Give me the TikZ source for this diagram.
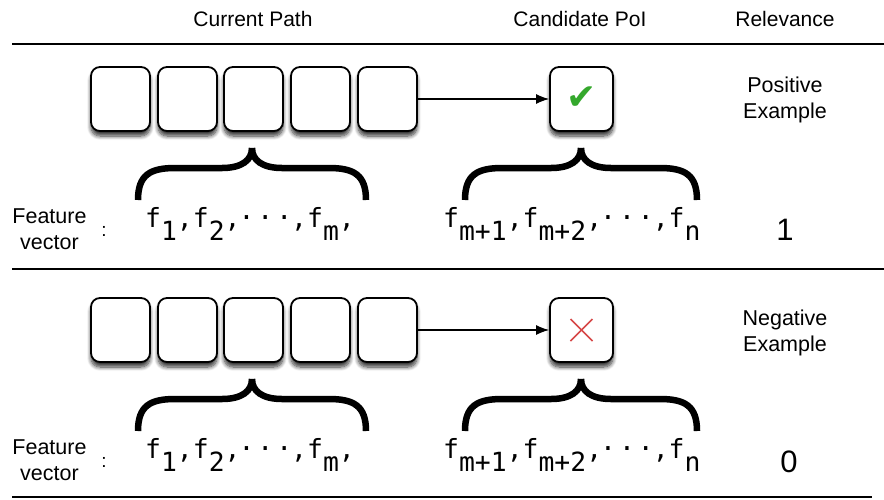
\documentclass[tikz,border=0pt]{standalone}
\usepackage{fontspec}
\setmainfont{Liberation Sans}
\newfontfamily\monof{DejaVu Sans Mono}
\newfontfamily\symf{DejaVu Sans}
\usetikzlibrary{arrows.meta,shadows.blur}
\definecolor{checkgreen}{RGB}{52,168,44}
\definecolor{crossred}{RGB}{214,72,72}
\newcommand\lo[1]{\raisebox{-13pt}{#1}}
\newcommand\cd{\raisebox{8pt}{.}}
\newcommand\Brace[3]{%
  \draw[bracestroke] (#1-#3,#2+52) .. controls (#1-#3,#2+27) and (#1-#3+12,#2+20) .. (#1-#3+37,#2+20)
     -- (#1-30,#2+20) .. controls (#1-10,#2+20) and (#1,#2+12) .. (#1,#2);
  \draw[bracestroke] (#1+#3,#2+52) .. controls (#1+#3,#2+27) and (#1+#3-12,#2+20) .. (#1+#3-37,#2+20)
     -- (#1+30,#2+20) .. controls (#1+10,#2+20) and (#1,#2+12) .. (#1,#2);}
\tikzset{
  cell/.style={draw=black, line width=1.8pt, fill=white, rounded corners=9pt,
    minimum width=59pt, minimum height=64pt, inner sep=0pt,
    blur shadow={shadow xshift=0pt, shadow yshift=-5pt, shadow opacity=80, shadow blur radius=4pt, shadow blur steps=8}},
  cand/.style={cell, minimum width=63pt},
  hdr/.style={font=\fontsize{21}{25}\selectfont, inner sep=0pt},
  lab/.style={font=\fontsize{21.5}{26}\selectfont, align=center, inner sep=0pt},
  colonlab/.style={font=\fontsize{19}{20}\selectfont, inner sep=0pt},
  mono/.style={font=\monof\fontsize{26.4}{30}\selectfont, inner sep=0pt},
  bignum/.style={font=\fontsize{31}{34}\selectfont, inner sep=0pt},
  conn/.style={line width=1.2pt, -{Latex[length=13pt,width=10pt]}},
  bracestroke/.style={line width=6.5pt, line cap=butt},
  sepline/.style={line width=2pt},
  checkmark/.style={font=\symf\fontsize{36}{38}\selectfont, text=checkgreen},
  crossline/.style={draw=crossred, line width=1.6pt},
}
\begin{document}
\begin{tikzpicture}[x=1pt,y=-1pt]
\useasboundingbox (0,0) rectangle (884,499);
% headers
\node[hdr, anchor=base] (h1) at (253,26) {Current Path};
\node[hdr, anchor=base] (h2) at (580,26) {Candidate PoI};
\node[hdr, anchor=base] (h3) at (785,26) {Relevance};
% separators
\draw[sepline] (12,44) -- (884,44);
\draw[sepline] (12,269) -- (884,269);
\draw[sepline] (12,497) -- (872,497);
% positive row
\begin{scope}[name prefix=p-]
\node[cell] (b1) at (120.5,99) {};
\node[cell] (b2) at (187.5,99) {};
\node[cell] (b3) at (253.5,99) {};
\node[cell] (b4) at (320.5,99) {};
\node[cell] (b5) at (387.5,99) {};
\node[cand] (c) at (581.5,99) {};
\node[checkmark] (chk) at (582,98) {✔};
\draw[conn] (b5) -- (c);
\Brace{252}{148}{114}
\Brace{581}{148}{116}
\node[lab] (fv) at (49.5,229) {Feature\\vector};
\node[colonlab] (col) at (104,231) {:};
\node[mono, anchor=base west] (lf) at (145,227) {f\lo{1},f\lo{2},\kern-2pt\cd\kern3pt\cd\kern3pt\cd\kern-1pt,f\lo{m},};
\node[mono, anchor=base west] (rf) at (443,227) {f\lo{m+1},f\lo{m+2},\kern-2pt\cd\kern3pt\cd\kern3pt\cd\kern-1pt,f\lo{n}};
\node[bignum, anchor=base] (val) at (785,240) {1};
\node[lab] (ex) at (785,100) {Positive\\Example};
\end{scope}
% negative row
\begin{scope}[name prefix=n-, shift={(0,231)}]
\node[cell] (b1) at (120.5,99) {};
\node[cell] (b2) at (187.5,99) {};
\node[cell] (b3) at (253.5,99) {};
\node[cell] (b4) at (320.5,99) {};
\node[cell] (b5) at (387.5,99) {};
\node[cand] (c) at (581.5,99) {};
\draw[crossline] ([shift={(-11,-11)}]c.center) -- ([shift={(11,11)}]c.center);
\draw[crossline] ([shift={(-11,11)}]c.center) -- ([shift={(11,-11)}]c.center);
\draw[conn] (b5) -- (c);
\Brace{252}{148}{114}
\Brace{581}{148}{116}
\node[lab] (fv) at (49.5,229) {Feature\\vector};
\node[colonlab] (col) at (104,231) {:};
\node[mono, anchor=base west] (lf) at (145,227) {f\lo{1},f\lo{2},\kern-2pt\cd\kern3pt\cd\kern3pt\cd\kern-1pt,f\lo{m},};
\node[mono, anchor=base west] (rf) at (443,227) {f\lo{m+1},f\lo{m+2},\kern-2pt\cd\kern3pt\cd\kern3pt\cd\kern-1pt,f\lo{n}};
\node[bignum, anchor=base] (val) at (789,241) {0};
\node[lab] (ex) at (785,101.5) {Negative\\Example};
\end{scope}
\end{tikzpicture}
\end{document}
